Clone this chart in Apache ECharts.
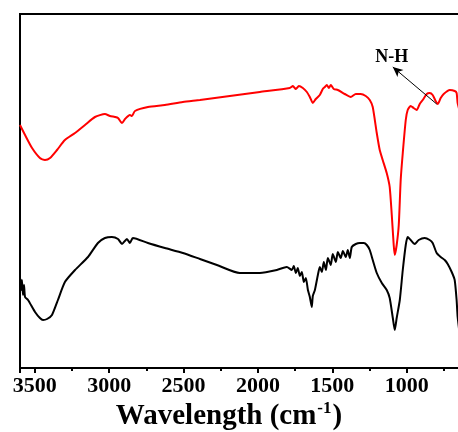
<!DOCTYPE html>
<html>
<head>
<meta charset="utf-8">
<script src="https://cdn.jsdelivr.net/npm/echarts@6/dist/echarts.min.js"></script>
<style>html,body{margin:0;padding:0;background:#fff}#c{width:458px;height:432px}</style>
</head>
<body>
<div id="c"></div>
<script>
// Wavenumber (cm-1) and relative transmittance values
const redWave = [3600,3566,3519,3466,3432,3398,3351,3298,3230,3163,3096,3029,2995,2962,2941,2914,2894,2861,2847,2827,2740,2626,2505,2390,2189,1987,1786,1765,1745,1725,1698,1671,1651,1631,1611,1584,1564,1550,1537,1523,1510,1490,1463,1416,1376,1342,1309,1275,1248,1228,1201,1181,1161,1134,1114,1100,1087,1080,1067,1053,1040,1026,1006,993,973,953,932,912,892,865,845,825,805,791,771,751,710,677,664,657,640];
const redT    = [243,233,220,210,208,210,218,228,235,243,251,254,252,251,250,245,249,253,252,257,261,263,266,268,272,276,280,282,279,282,280,276,271,265,269,273,279,281,283,280,283,279,278,274,271,274,274,272,268,261,235,218,208,195,181,153,123,113,123,143,188,215,248,258,262,260,258,264,268,274,275,273,267,264,270,274,278,277,275,265,255];
const blackWave = [3600,3593,3587,3580,3573,3566,3546,3499,3466,3445,3418,3385,3345,3298,3230,3143,3076,3029,2982,2941,2914,2881,2861,2841,2740,2626,2505,2390,2276,2122,1987,1873,1806,1772,1759,1745,1732,1718,1705,1691,1678,1664,1651,1638,1631,1617,1597,1584,1570,1557,1543,1530,1510,1497,1476,1463,1443,1429,1409,1396,1382,1369,1342,1315,1288,1268,1248,1228,1201,1167,1134,1114,1093,1080,1067,1046,1026,1006,993,973,946,919,879,845,825,798,771,744,724,697,677,664,657,640];
const blackT    = [91,78,88,73,83,71,68,56,50,48,49,53,68,86,98,111,125,130,131,129,124,129,125,130,125,120,115,109,103,95,95,98,101,98,102,95,100,92,96,86,90,78,71,61,72,78,93,101,96,106,98,110,103,114,106,116,110,117,111,118,110,121,124,125,125,123,118,108,95,85,78,70,50,38,50,68,98,123,131,128,124,128,130,128,125,115,111,108,104,96,88,68,51,30];
const xTicks = [3500,3000,2500,2000,1500,1000];
const annoText = 'N-H';
const annoTail = [798, 264];
const annoHead = [1093, 301];
const annoLabelAt = [1100, 311];

const zip = (a, b) => a.map((v, i) => [v, b[i]]);
const serif = '"Liberation Serif","Times New Roman",serif';

const chart = echarts.init(document.getElementById('c'), null, {renderer: 'canvas'});
chart.setOption({
  animation: false,
  backgroundColor: '#fff',
  title: {
    text: '{a|Wavelength (cm}{s|-1}{a|)}',
    left: 'center',
    top: 395,
    textStyle: {
      rich: {
        a: {fontFamily: serif, fontWeight: 'bold', fontSize: 29, color: '#000', lineHeight: 34},
        s: {fontFamily: serif, fontWeight: 'bold', fontSize: 17, color: '#000', verticalAlign: 'top', lineHeight: 34, padding: [0, 1, 14, 1]}
      }
    }
  },
  grid: {left: 20, top: 14, width: 461, bottom: 64, show: true, borderColor: '#000', borderWidth: 2, backgroundColor: 'transparent', outerBoundsMode: 'none', containLabel: false},
  xAxis: {
    type: 'value',
    inverse: true,
    min: 500,
    max: 3600,
    interval: 500,
    splitLine: {show: false},
    axisLine: {show: true, lineStyle: {color: '#000', width: 2}},
    axisTick: {show: true, inside: false, length: 5, lineStyle: {color: '#000', width: 2}},
    minorTick: {show: true, splitNumber: 2, length: 3, lineStyle: {color: '#000', width: 2}},
    axisLabel: {
      margin: 7,
      color: '#000',
      fontFamily: serif,
      fontWeight: 'bold',
      fontSize: 22,
      formatter: v => xTicks.indexOf(v) >= 0 ? String(v) : ''
    }
  },
  yAxis: {
    type: 'value',
    min: 0,
    max: 354,
    show: false,
    splitLine: {show: false}
  },
  series: [
    {
      type: 'line',
      data: zip(redWave, redT),
      showSymbol: false,
      smooth: 0.2,
      lineStyle: {color: '#ff0000', width: 2},
      itemStyle: {color: '#ff0000'},
      markLine: {
        silent: true,
        symbol: ['none', 'arrow'],
        symbolSize: [7, 10],
        label: {show: false},
        lineStyle: {color: '#000', width: 1, type: 'solid'},
        data: [[{coord: annoTail}, {coord: annoHead}]]
      },
      markPoint: {
        symbol: 'circle',
        symbolSize: 0,
        label: {show: true, formatter: annoText, color: '#000', fontFamily: serif, fontWeight: 'bold', fontSize: 18, position: 'inside'},
        data: [{coord: annoLabelAt}]
      }
    },
    {
      type: 'line',
      data: zip(blackWave, blackT),
      showSymbol: false,
      smooth: 0.2,
      lineStyle: {color: '#000', width: 2},
      itemStyle: {color: '#000'}
    }
  ]
});
</script>
</body>
</html>
